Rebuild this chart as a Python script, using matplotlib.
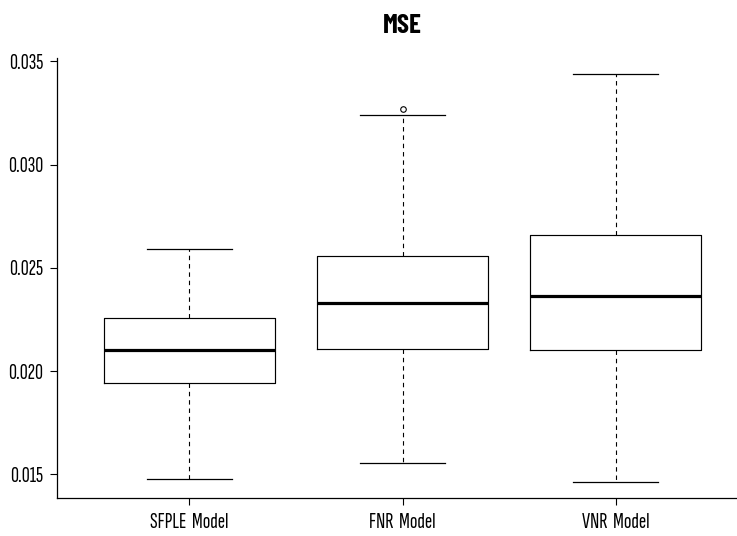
import matplotlib
matplotlib.use("Agg")
import matplotlib.pyplot as plt

# box statistics
labels = ["SFPLE  Model", "FNR  Model", "VNR  Model"]
whislo = [0.01475, 0.01555, 0.01461]
q1 = [0.01940, 0.02108, 0.02102]
med = [0.02102, 0.02331, 0.02363]
q3 = [0.02258, 0.02558, 0.02658]
whishi = [0.02589, 0.03242, 0.03439]
fliers = [[], [0.03271], []]
yticks = [0.015, 0.020, 0.025, 0.030, 0.035]
ytick_labels = ["0.015", "0.020", "0.025", "0.030", "0.035"]

# narrow fonts to get close to the squeezed Helvetica of the reference
tick_font = ['Sofia Sans Extra Condensed', 'Saira ExtraCondensed', 'Liberation Sans', 'DejaVu Sans']
title_font = ['Barlow Condensed', 'Saira ExtraCondensed', 'Liberation Sans', 'DejaVu Sans']
plt.rcParams['font.family'] = tick_font

stats = []
for i in range(len(labels)):
    stats.append(dict(label=labels[i], whislo=whislo[i], q1=q1[i], med=med[i],
                      q3=q3[i], whishi=whishi[i], fliers=fliers[i]))

fig = plt.figure(figsize=(7.37, 5.36), dpi=100)
ax = fig.add_axes([57/737, 38/536, 691/737, 440/536])

ax.bxp(stats, positions=[1, 2, 3], widths=0.8,
       boxprops=dict(color='black', linewidth=0.85),
       medianprops=dict(color='black', linewidth=2.3),
       whiskerprops=dict(color='black', linewidth=0.8, linestyle=(0, (4, 3.5))),
       capprops=dict(color='black', linewidth=0.9),
       flierprops=dict(marker='o', markersize=4, markerfacecolor='none',
                       markeredgecolor='black', markeredgewidth=0.8),
       capwidths=0.4)

ax.set_xlim(0.38, 3.62)
ax.set_ylim(0.013853, 0.03516)
ax.set_yticks(yticks)
ax.set_yticklabels(ytick_labels)
ax.set_xticks([1, 2, 3])
ax.set_xticklabels(labels)
ax.tick_params(direction='out', length=5, width=0.8, labelsize=16)
ax.tick_params(axis='y', pad=5)
ax.tick_params(axis='x', pad=6)
ax.spines['top'].set_visible(False)
ax.spines['right'].set_visible(False)
ax.spines['left'].set_linewidth(0.9)
ax.spines['bottom'].set_linewidth(0.9)
ax.set_title("MSE", fontsize=19.5, fontweight='bold', family=title_font, pad=18)

fig.savefig("out.png", dpi=100)
